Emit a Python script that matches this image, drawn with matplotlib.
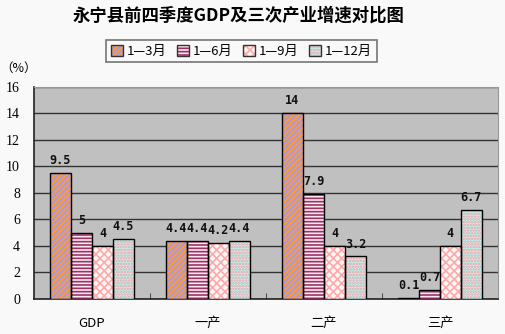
import numpy as np
import matplotlib
matplotlib.use('Agg')
import matplotlib.pyplot as plt
from matplotlib.patches import Patch
from matplotlib.legend_handler import HandlerTuple

plt.rcParams['font.family'] = ['Noto Sans CJK SC', 'DejaVu Sans']
plt.rcParams['hatch.linewidth'] = 1.2

categories = ['GDP', '一产', '二产', '三产']
series = ['1—3月', '1—6月', '1—9月', '1—12月']
q1 = [9.5, 4.4, 14, 0.1]
h1 = [5, 4.4, 7.9, 0.7]
q3 = [4, 4.2, 4, 4]
full = [4.5, 4.4, 3.2, 6.7]
values = [q1, h1, q3, full]

# face colour, hatch colour, hatch pattern for each series
styles = [
    ('#FF9933', '#9999FF', '//////'),
    ('#FFE8F0', '#993366', '-----'),
    ('#FFF6F6', '#FFAAAA', 'xxxx'),
    ('#B8F4F4', '#FF9999', '......'),
]

fig = plt.figure(figsize=(5.05, 3.34), dpi=100, facecolor='#F9F9F9')
ax = fig.add_axes([0.0673, 0.1048, 0.9187, 0.6362])
ax.set_facecolor('#C0C0C0')

x = np.arange(len(categories))
bw = 0.181
for i, vals in enumerate(values):
    fc, hc, hatch = styles[i]
    pos = x - 1.5 * bw + i * bw
    ax.bar(pos, vals, bw, color=fc, edgecolor=hc, hatch=hatch, linewidth=0, zorder=3)
    ax.bar(pos, vals, bw, fill=False, edgecolor='black', linewidth=1.0, zorder=4)
    for px, v in zip(pos, vals):
        ax.text(px, v + 0.45, f'{v:g}', ha='center', va='bottom', fontsize=8.5,
                family='DejaVu Sans Mono', fontweight='bold', color='#111111', zorder=5)

ax.set_xlim(-0.5, 3.5)
ax.set_ylim(0, 16)
ax.set_yticks(range(0, 17, 2))
ax.yaxis.grid(True, color='#333333', linewidth=1.0, zorder=1)
ax.set_axisbelow(True)
ax.tick_params(axis='y', length=0, labelsize=10, pad=10)
for lab in ax.get_yticklabels():
    lab.set_family(['Liberation Serif', 'DejaVu Serif'])

ax.set_xticks(x)
ax.set_xticklabels(categories, fontsize=9.5)
ax.tick_params(axis='x', length=0, pad=13)
ax.set_xticks([0.5, 1.5, 2.5], minor=True)
ax.tick_params(axis='x', which='minor', direction='in', length=4, color='#333333')

for s in ['left', 'bottom']:
    ax.spines[s].set_color('#222222')
    ax.spines[s].set_linewidth(1.2)
for s in ['top', 'right']:
    ax.spines[s].set_color('#999999')

fig.text(0.473, 0.952, '永宁县前四季度GDP及三次产业增速对比图', ha='center', va='center',
         fontsize=12.5, fontweight='bold')
fig.text(0.0, 0.797, '（%）', ha='left', va='center', fontsize=9)

handles = [(Patch(facecolor=fc, edgecolor=hc, hatch=h, linewidth=0),
            Patch(fill=False, edgecolor='#333333', linewidth=1.0)) for fc, hc, h in styles]
leg = fig.legend(handles, series, loc='center', bbox_to_anchor=(0.478, 0.847), ncol=4,
                 fontsize=9.5, frameon=True, fancybox=False, handlelength=0.9, handleheight=0.9,
                 handletextpad=0.3, columnspacing=0.8, borderpad=0.35,
                 handler_map={tuple: HandlerTuple(ndivide=1, pad=0)})
leg.get_frame().set_edgecolor('#555555')
leg.get_frame().set_linewidth(1.2)
leg.get_frame().set_facecolor('#F9F9F9')

fig.savefig('out.png', dpi=100, facecolor=fig.get_facecolor())
